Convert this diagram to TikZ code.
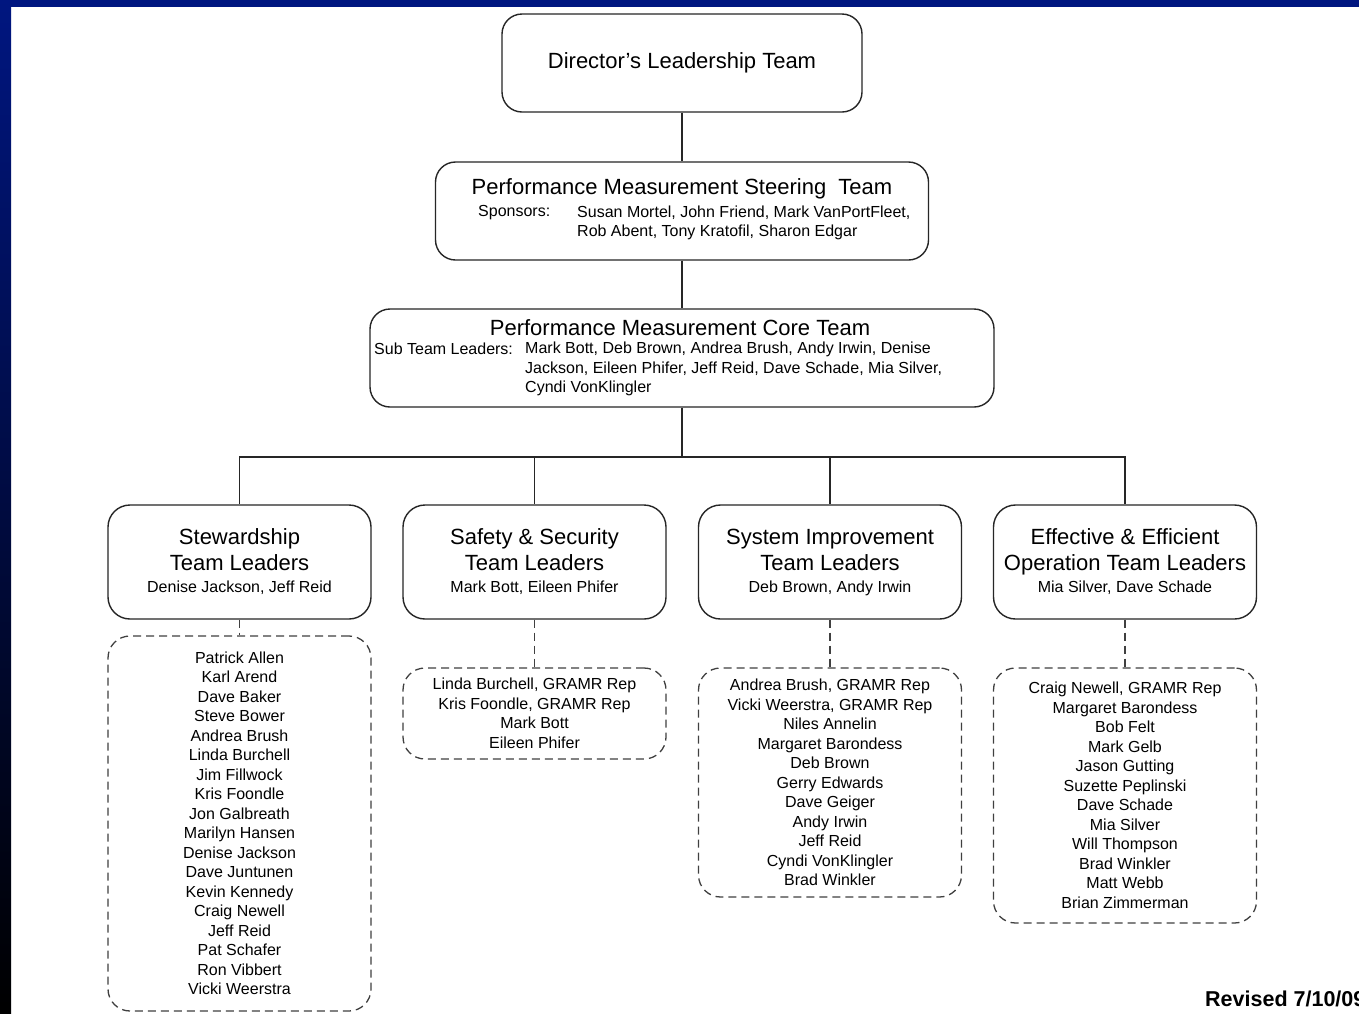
\documentclass[tikz,border=0pt]{standalone}
\usepackage{fontspec}
\setmainfont{Liberation Sans}
\definecolor{deckblue}{RGB}{0,22,128}
\newcommand\headsize{\fontsize{22}{26}\selectfont}
\newcommand\namesize{\fontsize{16}{19.5}\selectfont}
\tikzset{
  topbox/.style={draw=black!85, line width=1.4pt, rounded corners=20pt,
    minimum height=98pt, inner sep=0pt, font=\headsize},
  teambox/.style={draw=black!85, line width=1.4pt, rounded corners=22pt,
    minimum width=263pt, minimum height=114pt, inner sep=0pt,
    align=center, font=\headsize},
  listbox/.style={draw=black!75, line width=1.3pt, dash pattern=on 8pt off 5pt,
    rounded corners=22pt, minimum width=263pt, inner sep=0pt,
    align=center, font=\namesize},
  headtext/.style={inner sep=0pt, font=\headsize},
  nametext/.style={inner sep=0pt, font=\namesize},
  link/.style={draw=black!85, line width=1.4pt},
  dashlink/.style={draw=black!75, line width=1.3pt, dash pattern=on 8pt off 5pt},
}
\begin{document}
\begin{tikzpicture}[x=1pt,y=-1pt]
\useasboundingbox (0,0) rectangle (1359,1013);
% slide frame
\fill[white] (0,0) rectangle (1359,1013);
\fill[deckblue] (0,0) rectangle (1359,7);
\shade[top color=deckblue, middle color=deckblue!75!black, bottom color=black] (0,0) rectangle (11,1013);

% leadership
\node[topbox, minimum width=360pt] (dlt) at (682,63) {Director's Leadership Team};

\node[topbox, minimum width=493pt] (pmst) at (682,211) {};
\node[headtext] (pmst-title) at (682,189) {Performance Measurement Steering\ \ Team};
\node[nametext, anchor=west] (pmst-label) at (478,213) {Sponsors:};
\node[nametext, anchor=west, align=left] (pmst-names) at (577,223)
  {Susan Mortel, John Friend, Mark VanPortFleet,\\Rob Abent, Tony Kratofil, Sharon Edgar};

\node[topbox, minimum width=624pt] (pmct) at (682,358) {};
\node[headtext] (pmct-title) at (680,328) {Performance Measurement Core Team};
\node[nametext, anchor=west] (pmct-label) at (374,349) {Sub Team Leaders:};
\node[nametext, anchor=west, align=left] (pmct-names) at (525,369)
  {Mark Bott, Deb Brown, Andrea Brush, Andy Irwin, Denise\\Jackson, Eileen Phifer, Jeff Reid, Dave Schade, Mia Silver,\\Cyndi VonKlingler};

% sub teams
\node[teambox] (stew) at (239.5,562) {Stewardship\\Team Leaders\\[-4pt]{\namesize Denise Jackson, Jeff Reid}};
\node[teambox] (safe) at (534.5,562) {Safety \& Security\\Team Leaders\\[-4pt]{\namesize Mark Bott, Eileen Phifer}};
\node[teambox] (sysi) at (830,562) {System Improvement\\Team Leaders\\[-4pt]{\namesize Deb Brown, Andy Irwin}};
\node[teambox] (eeop) at (1125,562) {Effective \& Efficient\\Operation Team Leaders\\[-4pt]{\namesize Mia Silver, Dave Schade}};

\coordinate (bus) at (682,457);
\draw[link] (dlt) -- (pmst);
\draw[link] (pmst) -- (pmct);
\draw[link] (pmct) -- (bus);
\foreach \t in {stew,safe,sysi,eeop}
  \draw[link] (bus) -| (\t);

% members
\node[listbox, minimum height=375pt] (stew-list) at (239.5,823.5)
  {Patrick Allen\\Karl Arend\\Dave Baker\\Steve Bower\\Andrea Brush\\Linda Burchell\\Jim Fillwock\\Kris Foondle\\Jon Galbreath\\Marilyn Hansen\\Denise Jackson\\Dave Juntunen\\Kevin Kennedy\\Craig Newell\\Jeff Reid\\Pat Schafer\\Ron Vibbert\\Vicki Weerstra};
\node[listbox, minimum height=91pt] (safe-list) at (534.5,713.5)
  {Linda Burchell, GRAMR Rep\\Kris Foondle, GRAMR Rep\\Mark Bott\\Eileen Phifer};
\node[listbox, minimum height=229pt] (sysi-list) at (830,782.5)
  {Andrea Brush, GRAMR Rep\\Vicki Weerstra, GRAMR Rep\\Niles Annelin\\Margaret Barondess\\Deb Brown\\Gerry Edwards\\Dave Geiger\\Andy Irwin\\Jeff Reid\\Cyndi VonKlingler\\Brad Winkler};
\node[listbox, minimum height=255pt] (eeop-list) at (1125,795.5)
  {Craig Newell, GRAMR Rep\\Margaret Barondess\\Bob Felt\\Mark Gelb\\Jason Gutting\\Suzette Peplinski\\Dave Schade\\Mia Silver\\Will Thompson\\Brad Winkler\\Matt Webb\\Brian Zimmerman};
\foreach \t in {stew,safe,sysi,eeop}
  \draw[dashlink] (\t) -- (\t-list);

\node[anchor=base west, inner sep=0pt, font=\bfseries\fontsize{21.5}{24}\selectfont] (revised) at (1205,1006) {Revised 7/10/09};
\end{tikzpicture}
\end{document}
